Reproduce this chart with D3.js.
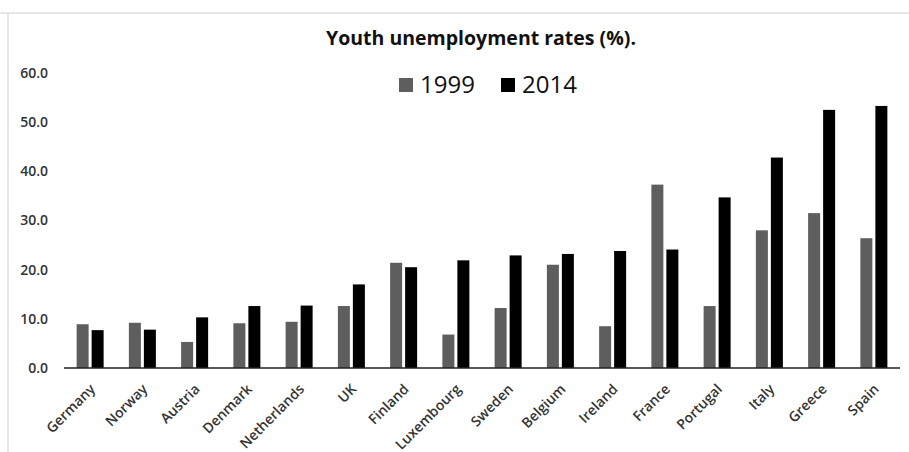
<!DOCTYPE html>
<html><head><meta charset="utf-8">
<script src="https://cdn.jsdelivr.net/npm/d3@7"></script>
<style>body{margin:0;background:#fff}svg{display:block}</style>
</head><body>
<script>
const categories = ["Germany","Norway","Austria","Denmark","Netherlands","UK","Finland","Luxembourg","Sweden","Belgium","Ireland","France","Portugal","Italy","Greece","Spain"];
const values1999 = [8.9,9.2,5.3,9.1,9.4,12.6,21.4,6.8,12.2,21.0,8.5,37.3,12.6,28.0,31.5,26.4];
const values2014 = [7.7,7.8,10.3,12.6,12.7,17.0,20.5,21.9,22.9,23.2,23.8,24.1,34.7,42.8,52.5,53.3];
const seriesNames = ["1999","2014"];
const seriesColors = ["#5e5e5e","#000000"];
const yTicks = [0,10,20,30,40,50,60];
const title = "Youth unemployment rates (%).";

const W = 909, H = 452;
const svg = d3.select("body").append("svg").attr("width", W).attr("height", H);
svg.append("rect").attr("width", W).attr("height", H).attr("fill", "#fff");
// faint frame lines
svg.append("line").attr("x1",0).attr("x2",W).attr("y1",13).attr("y2",13).attr("stroke","#e6e6e6").attr("stroke-width",2);
svg.append("line").attr("x1",8).attr("x2",8).attr("y1",13).attr("y2",H).attr("stroke","#e6e6e6").attr("stroke-width",2);

const x0 = d3.scaleBand().domain(categories).range([64, 900]).paddingInner(0).paddingOuter(0);
const y = d3.scaleLinear().domain([0, 60]).range([368, 73]);
const barW = 12, gap = 3;
const x1 = d3.scaleOrdinal().domain(seriesNames).range([-(barW + gap/2), gap/2]);

const data = categories.map((c, i) => ({c, v: [values1999[i], values2014[i]]}));
const g = svg.append("g");
data.forEach(d => {
  seriesNames.forEach((s, j) => {
    const cx = x0(d.c) + x0.bandwidth()/2;
    g.append("rect")
      .attr("x", cx + x1(s))
      .attr("y", y(d.v[j]))
      .attr("width", barW)
      .attr("height", y(0) - y(d.v[j]))
      .attr("fill", seriesColors[j]);
  });
});

// baseline
svg.append("line").attr("x1",64).attr("x2",900).attr("y1",y(0)).attr("y2",y(0)).attr("stroke","#222").attr("stroke-width",1.5);

// y axis labels
const yAxis = d3.axisLeft(y).tickValues(yTicks).tickFormat(d3.format(".1f")).tickSize(0).tickPadding(0);
const ya = svg.append("g").attr("transform","translate(48,0)").call(yAxis);
ya.select(".domain").remove();
ya.selectAll("text").attr("font-family","'Open Sans', sans-serif").attr("font-weight",600).attr("font-size",14).attr("fill","#333");

// x axis labels
const xAxis = d3.axisBottom(x0).tickSize(0).tickPadding(0);
const xa = svg.append("g").attr("transform",`translate(0,${y(0)})`).call(xAxis);
xa.select(".domain").remove();
xa.selectAll("text")
  .attr("font-family","'Open Sans', sans-serif").attr("font-weight",600).attr("font-size",14).attr("fill","#333")
  .attr("text-anchor","end").attr("dy",null).attr("y",0)
  .attr("transform","translate(6,22) rotate(-45)");

// title
svg.append("text").attr("x",481).attr("y",45).attr("text-anchor","middle")
  .attr("font-family","'Open Sans', sans-serif").attr("font-weight","bold").attr("font-size",19.5).attr("fill","#111").text(title);

// legend
const leg = svg.append("g");
const legX = [399, 501];
seriesNames.forEach((s, j) => {
  leg.append("rect").attr("x", legX[j]).attr("y", 78).attr("width", 14).attr("height", 14).attr("fill", seriesColors[j]);
  leg.append("text").attr("x", legX[j] + 21).attr("y", 93).attr("font-family","'Open Sans', sans-serif").attr("font-size",24).attr("fill","#111").text(s);
});
</script>
</body></html>
